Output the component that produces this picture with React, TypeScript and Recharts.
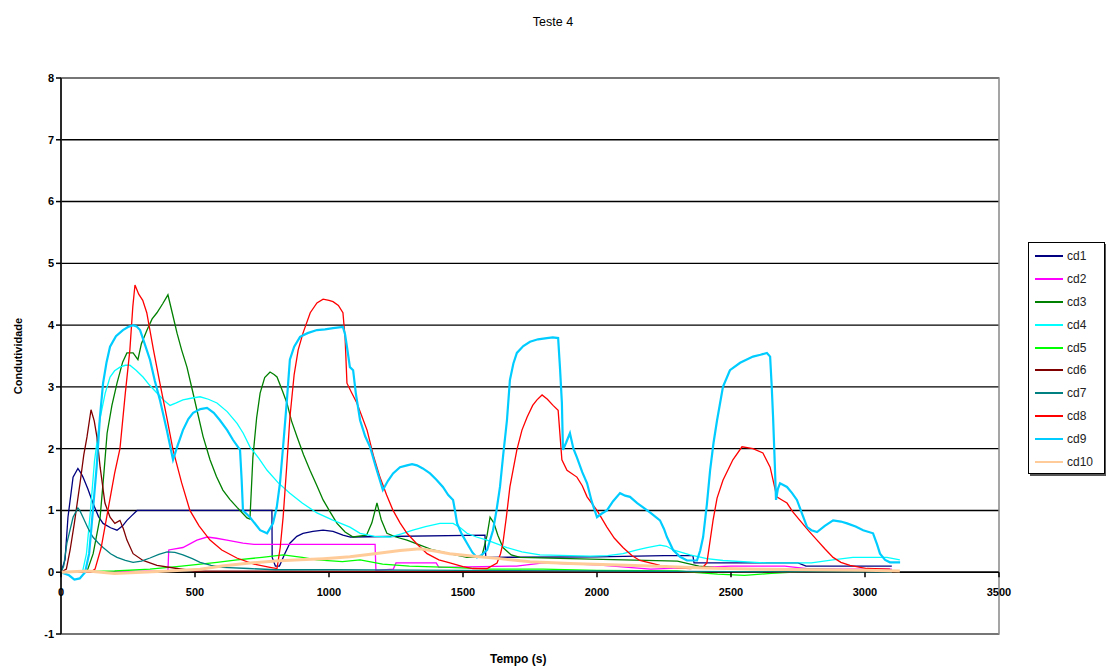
import { LineChart, Line, XAxis, YAxis, CartesianGrid, ReferenceLine, ReferenceArea } from 'recharts'

type Pt = [number, number]

// tempo (s), condutividade
const cd1: Pt[] = [
  [0, 0], [15, 0.2], [26, 0.89], [45, 1.54], [63, 1.68], [75, 1.6], [82, 1.54], [100, 1.35], [119, 1.12], [140, 0.9],
  [157, 0.79], [185, 0.72], [209, 0.68], [230, 0.75], [246, 0.84], [265, 0.92], [284, 1.0], [787, 1.0], [788, 0.24],
  [800, 0.1], [815, 0.1], [835, 0.3], [854, 0.47], [880, 0.58], [903, 0.63], [940, 0.66], [978, 0.68], [1015, 0.66],
  [1052, 0.6], [1080, 0.57], [1582, 0.6], [1585, 0.24], [2000, 0.25], [2250, 0.27], [2358, 0.27], [2362, 0.15],
  [2750, 0.15], [2780, 0.1], [3100, 0.1],
]

const cd2: Pt[] = [
  [0, 0], [399, 0.02], [402, 0.36], [455, 0.4], [507, 0.52], [545, 0.57], [580, 0.55], [619, 0.52], [679, 0.47],
  [720, 0.45], [1172, 0.45], [1175, 0.03], [1240, 0.05], [1250, 0.15], [1400, 0.15], [1410, 0.08], [1700, 0.1],
  [1800, 0.15], [2000, 0.12], [2200, 0.05], [2500, 0.1], [2700, 0.1], [2800, 0.05], [3100, 0.05],
]

const cd3: Pt[] = [
  [0, 0], [90, 0], [100, 0.05], [120, 0.3], [146, 0.89], [160, 1.6], [172, 2.25], [190, 2.7], [209, 3.06], [230, 3.4],
  [246, 3.55], [269, 3.55], [287, 3.44], [300, 3.7], [321, 3.92], [340, 4.1], [358, 4.2], [380, 4.35], [399, 4.49],
  [415, 4.2], [433, 3.87], [450, 3.6], [470, 3.32], [490, 2.95], [507, 2.63], [530, 2.2], [556, 1.82], [580, 1.55],
  [604, 1.33], [630, 1.18], [657, 1.05], [694, 0.88], [705, 0.86], [716, 1.86], [730, 2.5], [743, 2.9], [760, 3.15],
  [780, 3.24], [795, 3.2], [806, 3.16], [825, 2.95], [843, 2.74], [860, 2.45], [881, 2.19], [905, 1.9], [929, 1.65],
  [955, 1.4], [978, 1.17], [1005, 0.97], [1030, 0.79], [1060, 0.65], [1090, 0.57], [1140, 0.6], [1160, 0.8],
  [1179, 1.12], [1195, 0.85], [1216, 0.63], [1250, 0.57], [1291, 0.52], [1340, 0.44], [1388, 0.36], [1450, 0.3],
  [1515, 0.24], [1570, 0.25], [1590, 0.6], [1601, 0.89], [1615, 0.8], [1630, 0.6], [1649, 0.4], [1680, 0.28],
  [1713, 0.24], [1900, 0.22], [2100, 0.2], [2300, 0.18], [2380, 0.1], [2500, 0.05], [2800, 0.05], [3100, 0.03],
]

const cd4: Pt[] = [
  [0, 0], [80, 0], [95, 0.3], [110, 1.0], [125, 1.8], [146, 2.5], [165, 2.9], [183, 3.16], [200, 3.26], [220, 3.32],
  [240, 3.35], [257, 3.35], [280, 3.27], [306, 3.16], [330, 3.03], [358, 2.9], [385, 2.78], [407, 2.7], [430, 2.74],
  [455, 2.79], [490, 2.82], [519, 2.84], [550, 2.8], [582, 2.74], [620, 2.6], [657, 2.41], [680, 2.25], [705, 2.03],
  [737, 1.85], [769, 1.65], [810, 1.45], [854, 1.28], [900, 1.12], [955, 0.96], [1010, 0.85], [1078, 0.73],
  [1116, 0.63], [1170, 0.58], [1228, 0.57], [1270, 0.62], [1313, 0.68], [1360, 0.74], [1414, 0.79], [1463, 0.79],
  [1490, 0.72], [1515, 0.63], [1550, 0.57], [1590, 0.52], [1664, 0.4], [1720, 0.33], [1787, 0.28], [1974, 0.26],
  [2040, 0.27], [2097, 0.3], [2150, 0.36], [2187, 0.4], [2235, 0.44], [2260, 0.42], [2284, 0.36], [2347, 0.28],
  [2410, 0.22], [2470, 0.19], [2634, 0.15], [2800, 0.15], [2880, 0.2], [2955, 0.24], [3082, 0.24], [3130, 0.2],
]

const cd5: Pt[] = [
  [0, 0], [200, 0.02], [332, 0.05], [450, 0.1], [582, 0.16], [657, 0.2], [750, 0.24], [829, 0.28], [900, 0.24],
  [955, 0.2], [1050, 0.17], [1116, 0.2], [1200, 0.13], [1300, 0.1], [1450, 0.08], [1600, 0.05], [1800, 0.05],
  [2000, 0.03], [2300, 0.02], [2450, -0.03], [2550, -0.05], [2650, -0.02], [2800, 0.02], [3100, 0.03],
]

const cd6: Pt[] = [
  [0, 0], [20, 0.05], [34, 0.36], [50, 0.8], [71, 1.44], [85, 1.9], [97, 2.19], [112, 2.63], [124, 2.45], [134, 2.19],
  [146, 1.7], [164, 1.12], [183, 0.89], [201, 0.79], [220, 0.84], [233, 0.7], [246, 0.52], [269, 0.3], [306, 0.19],
  [358, 0.11], [433, 0.06], [500, 0.02], [3100, 0],
]

const cd7: Pt[] = [
  [0, 0], [10, 0.1], [22, 0.47], [45, 0.89], [63, 1.04], [70, 1.0], [82, 0.89], [100, 0.72], [119, 0.57], [140, 0.47],
  [157, 0.4], [185, 0.3], [209, 0.24], [240, 0.19], [269, 0.16], [300, 0.18], [332, 0.23], [365, 0.29], [396, 0.33],
  [425, 0.32], [455, 0.28], [490, 0.22], [519, 0.16], [560, 0.11], [604, 0.08], [700, 0.06], [800, 0.04],
  [1000, 0.04], [1500, 0.03], [2000, 0.02], [2500, 0.01], [3100, 0],
]

const cd8: Pt[] = [
  [0, 0], [110, 0], [127, 0.05], [150, 0.4], [175, 1.0], [200, 1.6], [220, 2.0], [240, 2.9], [257, 3.6], [268, 4.3],
  [276, 4.65], [290, 4.5], [305, 4.4], [320, 4.2], [345, 3.6], [369, 3.06], [395, 2.5], [418, 1.98], [450, 1.45],
  [481, 1.0], [515, 0.75], [556, 0.52], [600, 0.36], [656, 0.23], [720, 0.13], [780, 0.08], [806, 0.06], [818, 0.4],
  [829, 0.9], [842, 1.7], [854, 2.5], [870, 3.2], [885, 3.6], [903, 3.87], [930, 4.2], [955, 4.36], [978, 4.42],
  [1000, 4.4], [1015, 4.38], [1035, 4.32], [1052, 4.2], [1060, 3.8], [1067, 3.06], [1085, 2.9], [1104, 2.74],
  [1142, 2.3], [1165, 1.9], [1190, 1.54], [1215, 1.25], [1239, 1.0], [1265, 0.8], [1291, 0.63], [1330, 0.45],
  [1366, 0.3], [1410, 0.2], [1451, 0.15], [1500, 0.09], [1537, 0.06], [1590, 0.06], [1627, 0.15], [1640, 0.3],
  [1649, 0.47], [1662, 0.9], [1675, 1.38], [1701, 1.98], [1720, 2.3], [1739, 2.51], [1760, 2.7], [1776, 2.79],
  [1795, 2.87], [1815, 2.8], [1836, 2.7], [1855, 2.62], [1869, 1.82], [1888, 1.65], [1925, 1.54], [1945, 1.4],
  [1963, 1.22], [2000, 1.0], [2037, 0.73], [2065, 0.55], [2097, 0.4], [2130, 0.27], [2160, 0.19], [2235, 0.11],
  [2300, 0.07], [2347, 0.06], [2395, 0.08], [2410, 0.15], [2433, 0.84], [2448, 1.2], [2470, 1.49], [2507, 1.82],
  [2541, 2.03], [2582, 2.0], [2619, 1.93], [2646, 1.7], [2671, 1.22], [2690, 1.17], [2709, 1.12], [2730, 0.98],
  [2757, 0.84], [2790, 0.67], [2821, 0.52], [2850, 0.38], [2881, 0.24], [2910, 0.16], [2944, 0.11], [3007, 0.06],
  [3093, 0.05],
]

const cd9: Pt[] = [
  [0, 0], [30, -0.05], [50, -0.12], [70, -0.1], [90, 0], [105, 0.3], [115, 0.8], [133, 1.7], [145, 2.5], [157, 3.06],
  [170, 3.4], [183, 3.65], [205, 3.82], [231, 3.92], [250, 3.97], [269, 4.0], [282, 3.98], [295, 3.92], [312, 3.7],
  [332, 3.44], [350, 3.1], [369, 2.79], [395, 2.3], [418, 1.82], [435, 2.05], [455, 2.3], [475, 2.48], [493, 2.58],
  [520, 2.64], [545, 2.66], [570, 2.58], [593, 2.46], [620, 2.3], [642, 2.14], [668, 1.98], [674, 1.5], [679, 1.0],
  [705, 0.89], [725, 0.78], [743, 0.68], [769, 0.63], [791, 0.79], [805, 1.05], [817, 1.44], [830, 2.1], [843, 2.79],
  [854, 3.44], [870, 3.65], [892, 3.81], [920, 3.87], [955, 3.92], [985, 3.93], [1015, 3.95], [1052, 3.97],
  [1060, 3.85], [1067, 3.65], [1078, 3.32], [1090, 3.27], [1100, 2.9], [1116, 2.46], [1135, 2.2], [1153, 2.03],
  [1175, 1.7], [1201, 1.33], [1220, 1.48], [1239, 1.6], [1265, 1.7], [1291, 1.73], [1310, 1.75], [1328, 1.73],
  [1350, 1.68], [1377, 1.6], [1400, 1.5], [1425, 1.38], [1445, 1.25], [1463, 1.17], [1470, 1.0], [1478, 0.79],
  [1495, 0.62], [1515, 0.47], [1535, 0.32], [1552, 0.24], [1570, 0.28], [1590, 0.36], [1612, 0.68], [1625, 1.0],
  [1638, 1.38], [1650, 1.9], [1664, 2.46], [1675, 3.11], [1688, 3.38], [1701, 3.55], [1725, 3.66], [1750, 3.73],
  [1780, 3.77], [1813, 3.79], [1835, 3.8], [1855, 3.79], [1862, 3.3], [1869, 2.74], [1873, 1.98], [1885, 2.1],
  [1899, 2.25], [1912, 2.0], [1925, 1.86], [1945, 1.62], [1963, 1.44], [1980, 1.15], [2000, 0.89], [2018, 0.95],
  [2037, 1.0], [2060, 1.15], [2086, 1.28], [2105, 1.24], [2123, 1.22], [2150, 1.12], [2172, 1.05], [2200, 0.96],
  [2235, 0.84], [2250, 0.7], [2261, 0.57], [2284, 0.36], [2310, 0.25], [2336, 0.19], [2373, 0.19], [2385, 0.35],
  [2396, 0.57], [2410, 1.1], [2422, 1.65], [2435, 2.1], [2448, 2.46], [2470, 3.0], [2496, 3.27], [2534, 3.39],
  [2582, 3.49], [2610, 3.52], [2634, 3.55], [2646, 3.49], [2652, 3.0], [2657, 2.51], [2663, 1.8], [2668, 1.17],
  [2675, 1.35], [2683, 1.44], [2709, 1.38], [2728, 1.28], [2746, 1.17], [2765, 0.95], [2784, 0.73], [2800, 0.68],
  [2821, 0.65], [2850, 0.75], [2881, 0.84], [2910, 0.82], [2933, 0.79], [2965, 0.74], [2993, 0.68], [3030, 0.63],
  [3045, 0.45], [3056, 0.3], [3075, 0.2], [3093, 0.16], [3131, 0.16],
]

const cd10: Pt[] = [
  [0, 0], [100, 0.02], [200, -0.02], [300, 0], [400, 0.02], [450, 0.03], [519, 0.05], [600, 0.1], [705, 0.15],
  [800, 0.18], [892, 0.2], [980, 0.22], [1078, 0.25], [1170, 0.3], [1265, 0.35], [1340, 0.38], [1400, 0.34],
  [1450, 0.3], [1540, 0.26], [1638, 0.22], [1750, 0.17], [1900, 0.14], [2050, 0.12], [2200, 0.1], [2400, 0.07],
  [2600, 0.05], [2800, 0.04], [3000, 0.03], [3130, 0.02],
]

const xTicks = [0, 500, 1000, 1500, 2000, 2500, 3000, 3500]
const yTicks = [-1, 0, 1, 2, 3, 4, 5, 6, 7, 8]

const series = [
  { name: 'cd1', color: '#000080', width: 1.3, data: cd1 },
  { name: 'cd2', color: '#ff00ff', width: 1.3, data: cd2 },
  { name: 'cd3', color: '#008000', width: 1.3, data: cd3 },
  { name: 'cd4', color: '#00ffff', width: 1.3, data: cd4 },
  { name: 'cd5', color: '#00ff00', width: 1.3, data: cd5 },
  { name: 'cd6', color: '#800000', width: 1.3, data: cd6 },
  { name: 'cd7', color: '#008080', width: 1.3, data: cd7 },
  { name: 'cd8', color: '#ff0000', width: 1.3, data: cd8 },
  { name: 'cd9', color: '#00ccff', width: 2.2, data: cd9 },
  { name: 'cd10', color: '#ffcc99', width: 3, data: cd10 },
]

const W = 1106
const H = 669
const M = { top: 78, right: 107, bottom: 15, left: 0 }
const Y_AXIS_W = 61
const X_AXIS_H = 20
const PLOT_H = H - M.top - M.bottom - X_AXIS_H
// pixel row of value 0, where the time axis crosses
const ZERO_Y = M.top + (PLOT_H * 8) / 9

const FONT = '"Liberation Sans", Arial, sans-serif'

function TimeTick(props: any) {
  const { x, payload } = props
  return (
    <g>
      <line x1={x} x2={x} y1={ZERO_Y} y2={ZERO_Y + 5} stroke="#000" strokeWidth={1.5} />
      <text x={x} y={ZERO_Y + 24} textAnchor="middle" fontSize={11} fontWeight="bold" fill="#000" fontFamily={FONT}>
        {payload.value}
      </text>
    </g>
  )
}

function LegendBox() {
  return (
    <div
      style={{
        position: 'absolute',
        left: 1028,
        top: 242,
        border: '1px solid #000',
        boxShadow: '2px 2px 0 #555',
        background: '#fff',
        padding: '2px 0 0 6px',
        width: 69,
        fontFamily: FONT,
        fontSize: 12,
        color: '#222',
      }}
    >
      {series.map((s) => (
        <div key={s.name} style={{ display: 'flex', alignItems: 'center', height: 22.8 }}>
          <span style={{ display: 'inline-block', width: 28, height: 2, background: s.color, marginRight: 4 }} />
          <span>{s.name}</span>
        </div>
      ))}
    </div>
  )
}

export default function App() {
  return (
    <div style={{ position: 'absolute', left: 0, top: 0, width: W, height: H, background: '#fff', fontFamily: FONT }}>
      <div style={{ position: 'absolute', left: 0, width: W, top: 15, textAlign: 'center', fontSize: 12.5, color: '#000' }}>
        Teste 4
      </div>
      <div
        style={{
          position: 'absolute',
          left: 18,
          top: M.top + PLOT_H / 2,
          transform: 'translate(-50%, -50%) rotate(-90deg)',
          fontSize: 11,
          fontWeight: 'bold',
          whiteSpace: 'nowrap',
        }}
      >
        Condutividade
      </div>
      <div style={{ position: 'absolute', left: 490, top: 652, fontSize: 12, fontWeight: 'bold' }}>Tempo (s)</div>
      <LineChart width={W} height={H} margin={M}>
        <CartesianGrid horizontal vertical={false} stroke="#000" strokeWidth={1.4} />
        <XAxis
          type="number"
          dataKey="0"
          domain={[0, 3500]}
          ticks={xTicks}
          height={X_AXIS_H}
          axisLine={false}
          tickLine={false}
          tick={<TimeTick />}
          allowDataOverflow
        />
        <YAxis
          type="number"
          domain={[-1, 8]}
          ticks={yTicks}
          width={Y_AXIS_W}
          axisLine={{ stroke: '#000', strokeWidth: 1.5 }}
          tickLine={{ stroke: '#000', strokeWidth: 1.5 }}
          tickSize={5}
          tick={{ fontSize: 11, fontWeight: 'bold', fill: '#000', fontFamily: FONT }}
        />
        <ReferenceArea x1={0} x2={3500} y1={-1} y2={8} fill="none" stroke="#888" strokeWidth={1.5} />
        <ReferenceLine y={0} stroke="#000" strokeWidth={1.5} />
        {series.map((s) => (
          <Line
            key={s.name}
            name={s.name}
            data={s.data}
            dataKey="1"
            type="linear"
            stroke={s.color}
            strokeWidth={s.width}
            dot={false}
            activeDot={false}
            isAnimationActive={false}
          />
        ))}
      </LineChart>
      <LegendBox />
    </div>
  )
}
